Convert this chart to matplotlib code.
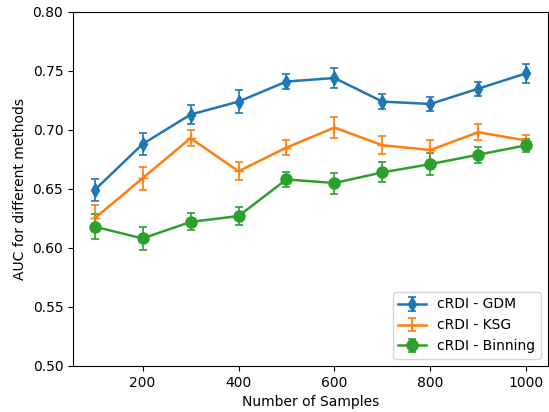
import matplotlib
matplotlib.use("Agg")
import matplotlib.pyplot as plt

samples = [100, 200, 300, 400, 500, 600, 700, 800, 900, 1000]

gdm = [0.649, 0.688, 0.713, 0.724, 0.741, 0.744, 0.724, 0.722, 0.735, 0.748]
gdm_err = [0.0095, 0.0095, 0.0078, 0.0098, 0.0065, 0.0085, 0.0064, 0.0057, 0.006, 0.0082]

ksg = [0.625, 0.659, 0.693, 0.665, 0.685, 0.702, 0.687, 0.683, 0.698, 0.691]
ksg_err = [0.011, 0.0097, 0.0068, 0.0078, 0.0064, 0.0087, 0.0078, 0.0085, 0.0068, 0.0045]

binning = [0.618, 0.608, 0.622, 0.627, 0.658, 0.655, 0.664, 0.671, 0.679, 0.687]
binning_err = [0.0106, 0.0097, 0.0072, 0.0076, 0.0064, 0.0089, 0.0085, 0.0093, 0.0069, 0.0054]

fig = plt.figure(figsize=(5.49, 4.12), dpi=100)
ax = fig.add_axes([0.133, 0.112, 0.865, 0.859])

ax.errorbar(samples, gdm, yerr=gdm_err, marker='d', markersize=7, capsize=3,
            linewidth=1.8, elinewidth=1.2, capthick=1.2, label='cRDI - GDM')
ax.errorbar(samples, ksg, yerr=ksg_err, marker='+', markersize=7, capsize=3,
            linewidth=1.8, elinewidth=1.2, capthick=1.2, label='cRDI - KSG')
ax.errorbar(samples, binning, yerr=binning_err, marker='o', markersize=8, capsize=3,
            linewidth=1.8, elinewidth=1.2, capthick=1.2, label='cRDI - Binning')

ax.set_ylim(0.5, 0.8)
ax.set_xlabel("Number of Samples")
ax.set_ylabel("AUC for different methods")
ax.legend(loc='lower right')

fig.savefig('out.png')
